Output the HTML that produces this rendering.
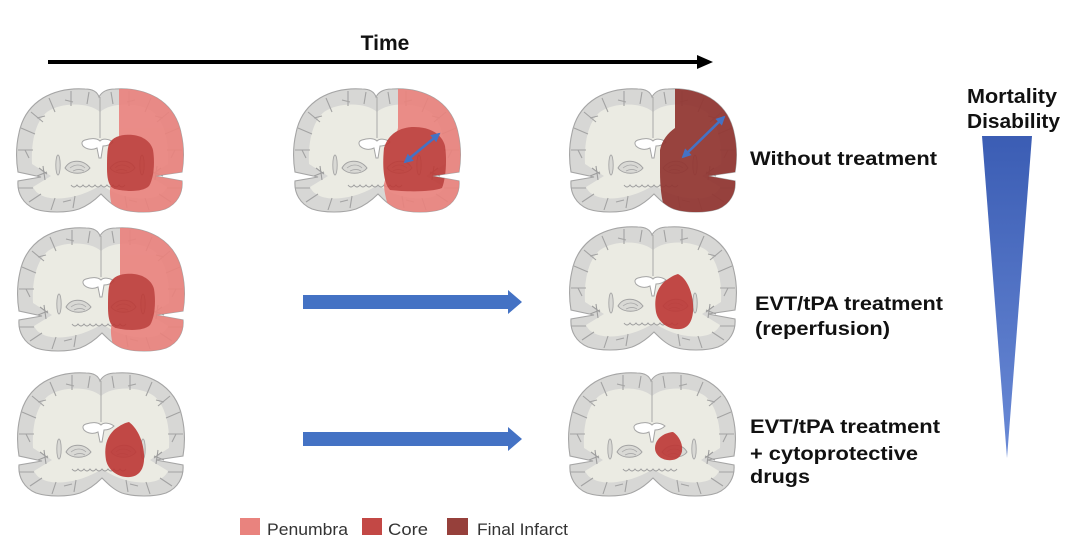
<!DOCTYPE html>
<html><head><meta charset="utf-8">
<style>
html,body{margin:0;padding:0;background:#fff;}
svg{display:block;}
text{font-family:"Liberation Sans",Arial,sans-serif;}
</style></head>
<body>
<svg width="1080" height="555" viewBox="0 0 1080 555" xmlns="http://www.w3.org/2000/svg">
<defs>
  <path id="outline" d="M84 9 C87 3 93 1 100 1 C115 0 130 3 142 10 C155 18 163 30 166 45 C169 58 169 72 167 84 L140 88 L167 93 C168 105 162 116 150 121 C138 125 118 125 106 121 C98 118 92 112 86 106 C80 112 72 118 64 121 C52 125 32 125 20 121 C8 116 2 105 3 93 L26 89 L3 84 C1 72 1 58 4 45 C7 30 15 18 28 10 C40 3 55 0 70 1 C77 1 82 3 84 9 Z"/>
  <clipPath id="bclip"><use href="#outline"/></clipPath>
  <g id="half">
    <path d="M6 40 L20 46 M16 24 L28 34 M22 30 L30 28 M34 10 L40 24 M56 3 L56 18 M50 12 L58 14 M74 4 L72 16 M3 62 L18 62 M10 62 L14 70 M3 100 L18 100 M14 114 L26 106 M36 122 L40 110 M58 120 L60 108 M48 114 L56 112" fill="none" stroke="#a3a3a3" stroke-width="1.1"/>
    <path d="M24 80 L32 86 M22 88 L32 84 M28 78 L30 92" fill="none" stroke="#9e9e9e" stroke-width="1.1"/>
    <ellipse cx="43" cy="77" rx="2.2" ry="10" fill="#d9d9d5" stroke="#a6a6a6" stroke-width="0.9"/>
    <path d="M50 80 C55 71 68 71 75 80 C70 87 55 87 50 80 Z" fill="#d9d9d5" stroke="#a2a2a2" stroke-width="1"/>
    <path d="M55 80 C60 76 66 76 70 80 M58 83 C62 81 66 81 69 83" fill="none" stroke="#a8a8a8" stroke-width="0.8"/>
  </g>
  <g id="brain">
    <use href="#outline" fill="#d7d7d5" stroke="#a5a5a5" stroke-width="1.1"/>
    <path d="M85 24 C96 14 124 14 138 24 C150 34 154 55 153 76 L134 88 L152 99 C148 108 136 112 120 110 C104 108 94 102 86 97 C78 102 66 108 50 110 C34 112 22 108 18 99 L36 88 L17 76 C16 55 20 34 32 24 C46 14 74 14 85 24 Z" fill="#ebebe3"/>
    <use href="#half"/>
    <use href="#half" transform="translate(170,0) scale(-1,1)"/>
    <line x1="85" y1="9" x2="85" y2="50" stroke="#a8a8a8" stroke-width="1"/>
    <path d="M70 52 C76 50 82 50 85 53 C88 50 94 51 98 54 C95 57 91 58 88 58 L86 70 L84 70 L82 60 C78 62 72 62 68 58 C66 55 67 53 70 52 Z" fill="#ffffff" stroke="#a5a5a5" stroke-width="1"/>
    <path d="M56 97 q3 4 6 0 q3 4 6 0 q3 4 6 0 q3 4 6 0 q3 4 6 0 q3 4 6 0 q3 4 6 0 q3 4 6 0 q3 4 6 0" fill="none" stroke="#a0a0a0" stroke-width="1"/>
  </g>
  <marker id="ah" viewBox="0 0 10 10" refX="8" refY="5" markerWidth="3.6" markerHeight="3.6" orient="auto-start-reverse">
    <path d="M0 0 L10 5 L0 10 Z" fill="#4472c4"/>
  </marker>
  <linearGradient id="tri" x1="0" y1="0" x2="0" y2="1">
    <stop offset="0" stop-color="#3b5db4"/>
    <stop offset="1" stop-color="#6a8ad6"/>
  </linearGradient>
</defs>

<rect width="1080" height="555" fill="#fff"/>

<!-- Time arrow -->
<text x="385" y="50" font-size="21" font-weight="bold" text-anchor="middle" fill="#111">Time</text>
<line x1="48" y1="62" x2="700" y2="62" stroke="#000" stroke-width="4"/>
<polygon points="697,55 713,62 697,69" fill="#000"/>

<!-- Row 1 -->
<g transform="translate(15,88)">
  <use href="#brain"/>
  <g clip-path="url(#bclip)" opacity="0.9">
    <path d="M104 -2 L175 -2 L175 130 L100 130 C97 118 93 106 96 96 L104 55 C104 40 104 20 104 -2 Z" fill="#ea827d"/>
    <path d="M94 56 C98 48 108 46 118 47 C128 48 136 54 138 62 C140 74 139 90 134 98 C128 104 112 104 100 101 C94 99 92 92 92 80 C92 70 92 62 94 56 Z" fill="#bd3a37"/>
  </g>
</g>
<g transform="translate(292,88)">
  <use href="#brain"/>
  <g clip-path="url(#bclip)" opacity="0.9">
    <path d="M106 -2 L175 -2 L175 130 L100 130 C96 118 92 106 92 96 L106 40 Z" fill="#ea827d"/>
    <path d="M92 60 C96 46 108 39 122 39 C138 39 150 46 153 58 C155 72 154 90 150 100 C140 104 115 104 98 102 C92 96 90 80 92 60 Z" fill="#bd3a37"/>
  </g>
  <line x1="113" y1="74" x2="147" y2="46" stroke="#4472c4" stroke-width="2.6" marker-start="url(#ah)" marker-end="url(#ah)"/>
</g>
<g transform="translate(568,88)">
  <use href="#brain"/>
  <g clip-path="url(#bclip)" opacity="0.93">
    <path d="M107 -2 L175 -2 L175 130 L100 130 C94 118 92 100 92 84 L92 62 C94 52 100 45 107 40 Z" fill="#913631"/>
  </g>
  <line x1="115" y1="69" x2="156" y2="29" stroke="#4472c4" stroke-width="2.6" marker-start="url(#ah)" marker-end="url(#ah)"/>
</g>

<!-- Row 2 -->
<g transform="translate(16,227)">
  <use href="#brain"/>
  <g clip-path="url(#bclip)" opacity="0.9">
    <path d="M104 -2 L175 -2 L175 130 L100 130 C97 118 93 106 96 96 L104 55 C104 40 104 20 104 -2 Z" fill="#ea827d"/>
    <path d="M94 56 C98 48 108 46 118 47 C128 48 136 54 138 62 C140 74 139 90 134 98 C128 104 112 104 100 101 C94 99 92 92 92 80 C92 70 92 62 94 56 Z" fill="#bd3a37"/>
  </g>
</g>
<g transform="translate(568,226)">
  <use href="#brain"/>
  <g clip-path="url(#bclip)" opacity="0.92">
    <path d="M110 48 C118 52 124 64 125 78 C126 92 122 102 112 103 C100 104 90 96 88 86 C86 74 88 64 96 56 C101 52 106 49 110 48 Z" fill="#bd3a37"/>
  </g>
</g>

<!-- Row 3 -->
<g transform="translate(16,372)">
  <use href="#brain"/>
  <g clip-path="url(#bclip)" opacity="0.92">
    <path d="M113 50 C121 56 127 68 128 82 C129 96 124 104 114 105 C102 106 92 98 90 88 C88 76 90 66 98 58 C103 54 108 51 113 50 Z" fill="#bd3a37"/>
  </g>
</g>
<g transform="translate(567,372)">
  <use href="#brain"/>
  <g clip-path="url(#bclip)" opacity="0.92">
    <path d="M106 60 C112 64 116 72 115 79 C114 86 108 89 100 88 C93 87 88 82 88 76 C88 70 92 65 98 62 C101 61 104 60 106 60 Z" fill="#bd3a37"/>
  </g>
</g>

<!-- Blue arrows -->
<polygon points="303,295 508,295 508,290 522,302 508,314 508,309 303,309" fill="#4472c4"/>
<polygon points="303,432 508,432 508,427 522,439 508,451 508,446 303,446" fill="#4472c4"/>

<!-- Right-side labels -->
<g font-weight="bold" fill="#111" font-size="19">
  <text x="750" y="165" textLength="187" lengthAdjust="spacingAndGlyphs">Without treatment</text>
  <text x="755" y="310" textLength="188" lengthAdjust="spacingAndGlyphs">EVT/tPA treatment</text>
  <text x="755" y="335" textLength="135" lengthAdjust="spacingAndGlyphs">(reperfusion)</text>
  <text x="750" y="433" textLength="190" lengthAdjust="spacingAndGlyphs">EVT/tPA treatment</text>
  <text x="750" y="460" textLength="168" lengthAdjust="spacingAndGlyphs">+ cytoprotective</text>
  <text x="750" y="483" textLength="60" lengthAdjust="spacingAndGlyphs">drugs</text>
</g>

<!-- Mortality / Disability -->
<g font-weight="bold" fill="#111" font-size="20">
  <text x="967" y="103" textLength="90" lengthAdjust="spacingAndGlyphs">Mortality</text>
  <text x="967" y="128" textLength="93" lengthAdjust="spacingAndGlyphs">Disability</text>
</g>
<polygon points="982,136 1032,136 1007,458" fill="url(#tri)"/>

<!-- Legend -->
<rect x="240" y="518" width="20" height="17" fill="#e9837e"/>
<text x="267" y="535" font-size="17" fill="#333" textLength="81" lengthAdjust="spacingAndGlyphs">Penumbra</text>
<rect x="362" y="518" width="20" height="17" fill="#c34845"/>
<text x="388" y="535" font-size="17" fill="#333" textLength="40" lengthAdjust="spacingAndGlyphs">Core</text>
<rect x="447" y="518" width="21" height="17" fill="#96403b"/>
<text x="477" y="535" font-size="17" fill="#333" textLength="91" lengthAdjust="spacingAndGlyphs">Final Infarct</text>
</svg>
</body></html>
